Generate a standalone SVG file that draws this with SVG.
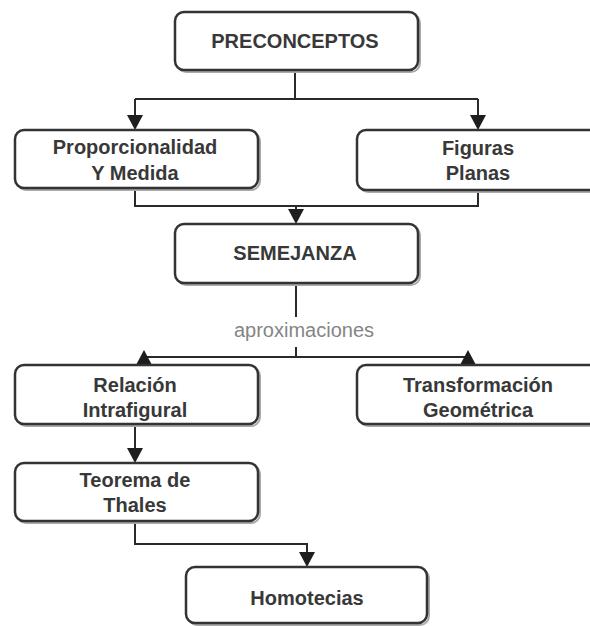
<svg xmlns="http://www.w3.org/2000/svg" width="590" height="626" viewBox="0 0 590 626">
<style>
.box{fill:#fff;stroke:#333;stroke-width:2.5}
.sh{fill:none;stroke:#aaa;stroke-width:2}
.t{font-family:"Liberation Sans",Arial,sans-serif;font-weight:bold;font-size:20px;fill:#383838;text-anchor:middle}
.c{fill:none;stroke:#2a2a2a;stroke-width:2}
.ah{fill:#1e1e1e}
.lbl{font-family:"Liberation Sans",Arial,sans-serif;font-size:20px;fill:#858585;text-anchor:middle}
</style>
<rect width="590" height="626" fill="#fff"/>
<g id="connectors">
<path class="c" d="M295 70V99M135 99H478M135 99V118M478 99V118"/>
<polygon class="ah" points="127,115 143,115 135,130"/>
<polygon class="ah" points="470,115 486,115 478,130"/>
<path class="c" d="M135 188V206H478V190M296 206V212"/>
<polygon class="ah" points="288,209 304,209 296,224"/>
<path class="c" d="M296 283V317M296 347V357M144 357H468"/>
<text class="lbl" x="304" y="337">aproximaciones</text>
<polygon class="ah" points="144,350 136,365 152,365"/>
<polygon class="ah" points="468,350 460,365 476,365"/>
<path class="c" d="M135 424V452"/>
<polygon class="ah" points="127,448 143,448 135,463"/>
<path class="c" d="M135 521V544H307V556"/>
<polygon class="ah" points="299,552 315,552 307,567"/>
</g>
<g id="n-preconceptos">
<rect class="sh" x="177" y="14" width="243" height="58" rx="9"/>
<rect class="box" x="175" y="12" width="243" height="58" rx="9"/>
<text class="t" x="295" y="48">PRECONCEPTOS</text>
</g>
<g id="n-proporcionalidad">
<rect class="sh" x="17" y="132" width="243" height="58" rx="9"/>
<rect class="box" x="15" y="130" width="243" height="58" rx="9"/>
<text class="t" x="135" y="154">Proporcionalidad</text>
<text class="t" x="135" y="180">Y Medida</text>
</g>
<g id="n-figuras">
<rect class="sh" x="359" y="132" width="243" height="60" rx="9"/>
<rect class="box" x="357" y="130" width="243" height="60" rx="9"/>
<text class="t" x="478" y="155">Figuras</text>
<text class="t" x="478" y="180">Planas</text>
</g>
<g id="n-semejanza">
<rect class="sh" x="177" y="226" width="243" height="59" rx="9"/>
<rect class="box" x="175" y="224" width="243" height="59" rx="9"/>
<text class="t" x="295" y="260">SEMEJANZA</text>
</g>
<g id="n-relacion">
<rect class="sh" x="17" y="367" width="243" height="59" rx="9"/>
<rect class="box" x="15" y="365" width="243" height="59" rx="9"/>
<text class="t" x="135" y="392">Relación</text>
<text class="t" x="135" y="417">Intrafigural</text>
</g>
<g id="n-transformacion">
<rect class="sh" x="359" y="367" width="243" height="59" rx="9"/>
<rect class="box" x="357" y="365" width="243" height="59" rx="9"/>
<text class="t" x="478" y="392">Transformación</text>
<text class="t" x="478" y="417">Geométrica</text>
</g>
<g id="n-teorema">
<rect class="sh" x="17" y="465" width="243" height="58" rx="9"/>
<rect class="box" x="15" y="463" width="243" height="58" rx="9"/>
<text class="t" x="135" y="487">Teorema de</text>
<text class="t" x="135" y="512">Thales</text>
</g>
<g id="n-homotecias">
<rect class="sh" x="188" y="569" width="241" height="56" rx="9"/>
<rect class="box" x="186" y="567" width="241" height="56" rx="9"/>
<text class="t" x="307" y="605">Homotecias</text>
</g>
</svg>
